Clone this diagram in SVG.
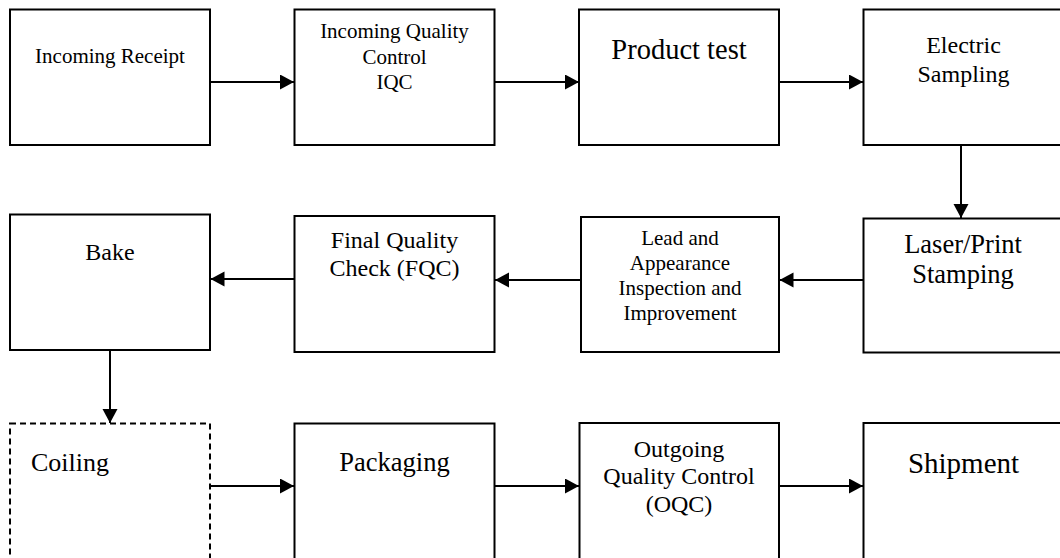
<svg xmlns="http://www.w3.org/2000/svg" width="1060" height="558" viewBox="0 0 1060 558">
<style>
.box{fill:#fff;stroke:#000;stroke-width:2}
.dash{fill:#fff;stroke:#000;stroke-width:2;stroke-dasharray:6 4}
.t{font-family:"Liberation Serif","Times New Roman",serif;fill:#000;text-anchor:middle}
.c{stroke:#000;stroke-width:2;fill:none;marker-end:url(#ah)}
</style>
<defs>
<marker id="ah" markerUnits="userSpaceOnUse" markerWidth="15" markerHeight="16" refX="14" refY="7.5" orient="auto">
<path d="M0,0 L14,7.5 L0,15 z" fill="#000"/>
</marker>
</defs>
<rect width="1060" height="558" fill="#fff"/>
<g id="n1"><rect class="box" x="10" y="9.5" width="200" height="135.5"/><text class="t" x="110" y="63" font-size="21">Incoming Receipt</text></g>
<g id="n2"><rect class="box" x="294.5" y="9.5" width="200" height="135.5"/><text class="t" x="394.5" y="38" font-size="21">Incoming Quality</text><text class="t" x="394.5" y="63.5" font-size="21">Control</text><text class="t" x="394.5" y="89" font-size="21">IQC</text></g>
<g id="n3"><rect class="box" x="579" y="9.5" width="200" height="135.5"/><text class="t" x="679" y="59" font-size="28.5">Product test</text></g>
<g id="n4"><rect class="box" x="863.5" y="9.5" width="200" height="135.5"/><text class="t" x="963.5" y="53" font-size="24">Electric</text><text class="t" x="963.5" y="81.5" font-size="24">Sampling</text></g>
<g id="n5"><rect class="box" x="863.5" y="218.5" width="200" height="134"/><text class="t" x="963" y="252.5" font-size="26.5">Laser/Print</text><text class="t" x="963" y="283" font-size="26.5">Stamping</text></g>
<g id="n6"><rect class="box" x="581" y="217" width="198" height="135"/><text class="t" x="680" y="245" font-size="21">Lead and</text><text class="t" x="680" y="270" font-size="21">Appearance</text><text class="t" x="680" y="295" font-size="21">Inspection and</text><text class="t" x="680" y="320" font-size="21">Improvement</text></g>
<g id="n7"><rect class="box" x="294.5" y="216" width="200" height="136"/><text class="t" x="394.5" y="248" font-size="24">Final Quality</text><text class="t" x="394.5" y="276" font-size="24">Check (FQC)</text></g>
<g id="n8"><rect class="box" x="10" y="214.5" width="200" height="135.5"/><text class="t" x="110" y="260" font-size="24">Bake</text></g>
<g id="n9"><rect class="dash" x="10" y="423.5" width="200" height="135.5"/><text class="t" x="31" y="470.5" font-size="26" text-anchor="start" style="text-anchor:start">Coiling</text></g>
<g id="n10"><rect class="box" x="294.5" y="423.5" width="200" height="135.5"/><text class="t" x="394.5" y="470.5" font-size="26.5">Packaging</text></g>
<g id="n11"><rect class="box" x="579.5" y="423" width="199.5" height="136"/><text class="t" x="679" y="456.5" font-size="24">Outgoing</text><text class="t" x="679" y="483.5" font-size="24">Quality Control</text><text class="t" x="679" y="511.5" font-size="24">(OQC)</text></g>
<g id="n12"><rect class="box" x="863.5" y="423" width="200" height="136"/><text class="t" x="963.5" y="472.5" font-size="29">Shipment</text></g>
<g id="connectors">
<line class="c" x1="210" y1="82" x2="294" y2="82"/>
<line class="c" x1="494.5" y1="82" x2="579" y2="82"/>
<line class="c" x1="779" y1="82" x2="863" y2="82"/>
<line class="c" x1="961" y1="145" x2="961" y2="218"/>
<line class="c" x1="863.5" y1="280" x2="779.5" y2="280"/>
<line class="c" x1="581" y1="280" x2="495" y2="280"/>
<line class="c" x1="294.5" y1="279" x2="210.5" y2="279"/>
<line class="c" x1="110" y1="350" x2="110" y2="423"/>
<line class="c" x1="210" y1="486" x2="294" y2="486"/>
<line class="c" x1="494.5" y1="486" x2="579" y2="486"/>
<line class="c" x1="779" y1="486" x2="863" y2="486"/>
</g>
</svg>
